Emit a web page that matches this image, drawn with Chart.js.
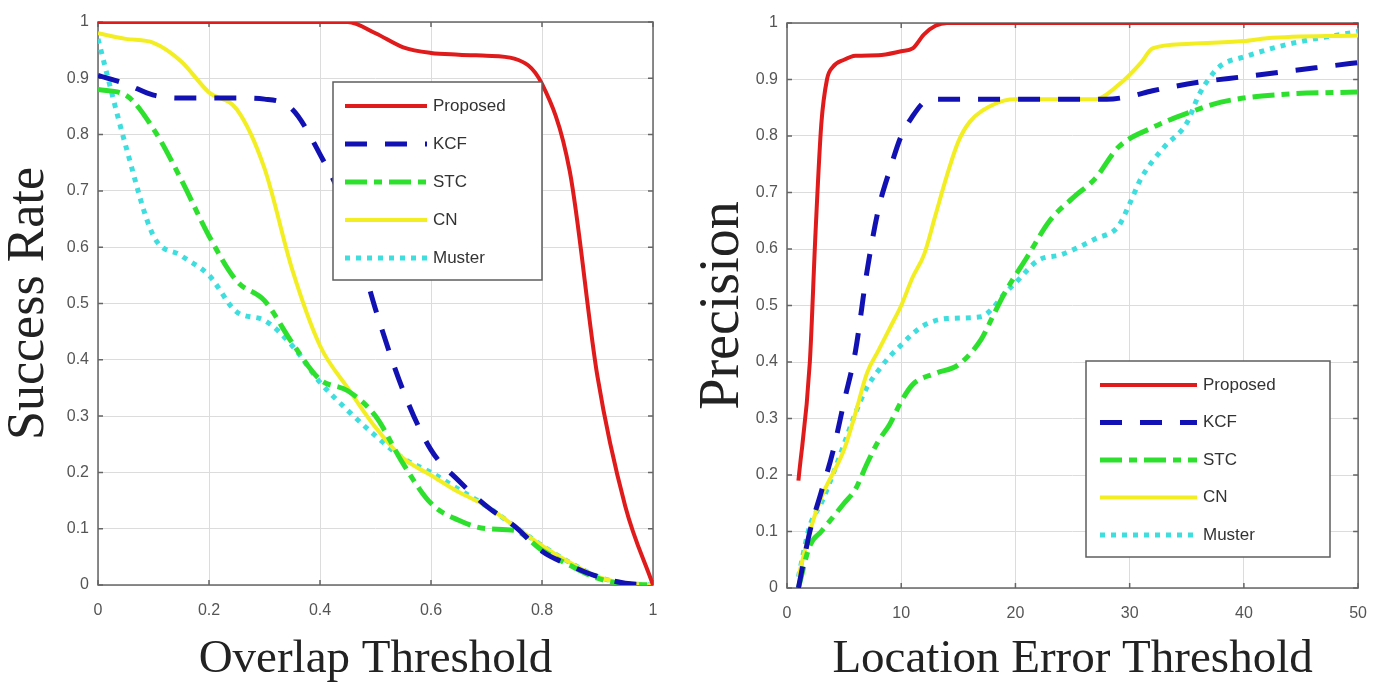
<!DOCTYPE html>
<html lang="en">
<head>
    <meta charset="UTF-8">
    <title>Success Rate / Precision</title>
    <script src="https://cdn.jsdelivr.net/npm/chart.js"></script>
    <style>
        body {
            margin: 0;
            background: #fff;
            width: 1383px;
            height: 683px;
            overflow: hidden;
            position: relative;
        }
        .panel {
            position: absolute;
            top: 0;
            height: 683px;
        }
        #left { left: 0; width: 690px; }
        #right { left: 690px; width: 693px; }
    </style>
</head>
<body>
    <div class="panel" id="left"><canvas id="successChart"></canvas></div>
    <div class="panel" id="right"><canvas id="precisionChart"></canvas></div>

    <script>
        // Trackers, in legend order
        const methods = ['Proposed', 'KCF', 'STC', 'CN', 'Muster'];

        // Success plot: rate per overlap threshold
        const overlapThresholds = [0, 0.05, 0.1, 0.15, 0.2, 0.25, 0.3, 0.35, 0.4, 0.45, 0.5,
                                   0.55, 0.6, 0.65, 0.7, 0.75, 0.8, 0.85, 0.9, 0.95, 1];
        const successProposed = [1, 1, 1, 1, 1, 1, 1, 1, 1, 1, 0.98,
                                 0.955, 0.945, 0.942, 0.94, 0.935, 0.89, 0.735, 0.37, 0.14, 0];
        const successKCF = [0.905, 0.89, 0.87, 0.865, 0.865, 0.865, 0.863, 0.845, 0.765, 0.66, 0.49,
                            0.345, 0.24, 0.185, 0.14, 0.105, 0.06, 0.035, 0.015, 0.003, 0];
        const successSTC = [0.88, 0.87, 0.81, 0.72, 0.62, 0.54, 0.505, 0.43, 0.365, 0.345, 0.3,
                            0.215, 0.145, 0.115, 0.1, 0.097, 0.062, 0.035, 0.012, 0.002, 0];
        const successCN = [0.98, 0.97, 0.963, 0.93, 0.875, 0.845, 0.74, 0.56, 0.425, 0.35, 0.28,
                           0.225, 0.195, 0.165, 0.14, 0.105, 0.07, 0.04, 0.015, 0.003, 0];
        const successMuster = [0.97, 0.78, 0.62, 0.585, 0.55, 0.485, 0.47, 0.425, 0.36, 0.31, 0.265,
                               0.225, 0.2, 0.17, 0.14, 0.105, 0.07, 0.04, 0.015, 0.003, 0];

        // Precision plot: each curve read where it bends
        const precProposedX = [1, 2, 2.5, 3, 3.5, 4, 5, 6, 8, 10, 11, 12, 13, 14, 50];
        const precProposedY = [0.19, 0.4, 0.63, 0.82, 0.9, 0.922, 0.935, 0.942, 0.943, 0.95, 0.955, 0.98, 0.995, 1, 1];
        const precKCFX = [1, 2, 3, 4, 5, 6, 7, 8, 9, 10, 11, 12, 13, 15, 20, 28, 30, 32, 36, 40, 44, 50];
        const precKCFY = [0, 0.1, 0.17, 0.24, 0.33, 0.42, 0.56, 0.67, 0.74, 0.8, 0.835, 0.86, 0.865,
                          0.865, 0.865, 0.865, 0.87, 0.88, 0.895, 0.905, 0.915, 0.93];
        const precSTCX = [1, 2, 3, 5, 6, 7, 8, 9, 10, 11, 13, 15, 17, 18, 19, 21, 23, 25, 27, 29, 32, 35, 38, 43, 50];
        const precSTCY = [0, 0.075, 0.1, 0.15, 0.175, 0.22, 0.26, 0.29, 0.33, 0.36, 0.38, 0.395, 0.44,
                          0.48, 0.52, 0.585, 0.65, 0.69, 0.725, 0.78, 0.815, 0.84, 0.86, 0.873, 0.878];
        const precCNX = [1, 2, 3, 5, 6, 7, 8, 9, 10, 11, 12, 13, 14, 15, 16, 18, 20, 27, 29, 31, 32, 35, 40, 42, 50];
        const precCNY = [0.02, 0.1, 0.16, 0.245, 0.31, 0.38, 0.42, 0.46, 0.5, 0.55, 0.59, 0.66, 0.73,
                         0.79, 0.825, 0.855, 0.865, 0.865, 0.89, 0.93, 0.955, 0.963, 0.968, 0.973, 0.978];
        const precMusterX = [1, 2, 3, 4, 5, 6, 7, 8, 9, 10, 11, 12, 14, 17, 18, 19, 20, 22, 24, 27, 29,
                             30, 31, 33, 35, 36, 37, 38, 40, 44, 50];
        const precMusterY = [0.02, 0.11, 0.15, 0.2, 0.255, 0.31, 0.355, 0.385, 0.41, 0.43, 0.45, 0.465,
                             0.477, 0.48, 0.495, 0.52, 0.54, 0.58, 0.59, 0.618, 0.64, 0.68, 0.725, 0.78,
                             0.823, 0.87, 0.903, 0.925, 0.94, 0.963, 0.985];

        // Tick labels
        const overlapTicks = [0, 0.2, 0.4, 0.6, 0.8, 1];
        const errorTicks = [0, 10, 20, 30, 40, 50];
        const rateTicks = [0, 0.1, 0.2, 0.3, 0.4, 0.5, 0.6, 0.7, 0.8, 0.9, 1];

        // MATLAB-like line styles (same order as methods)
        const lineStyles = [
            { color: '#e01b1b', width: 4, dash: [] },
            { color: '#1212b4', width: 5, dash: [22, 18] },
            { color: '#2ee02e', width: 5, dash: [22, 7, 8, 7] },
            { color: '#f2ee22', width: 4, dash: [] },
            { color: '#3fdede', width: 5, dash: [5, 6] }
        ];

        const sansFont = '"Liberation Sans", Arial, sans-serif';
        const serifFont = '"Liberation Serif", "Times New Roman", serif';

        // MATLAB prints 1 and 0 without decimals
        const tickText = v => String(Number(v.toFixed(2)));

        function toPoints(xs, ys) {
            return ys.map((y, i) => ({ x: xs[i], y: y }));
        }

        function buildDatasets(seriesList) {
            return seriesList.map((pts, i) => ({
                label: methods[i],
                data: pts,
                borderColor: lineStyles[i].color,
                borderWidth: lineStyles[i].width,
                borderDash: lineStyles[i].dash,
                borderCapStyle: 'butt',
                cubicInterpolationMode: 'monotone',
                pointRadius: 0,
                fill: false
            }));
        }

        // Boxed axes with small inward ticks on all four sides
        const boxPlugin = {
            id: 'boxAxes',
            beforeDatasetsDraw(chart) {
                const { ctx, chartArea: a, scales } = chart;
                ctx.save();
                ctx.strokeStyle = '#666';
                ctx.lineWidth = 1.5;
                ctx.beginPath();
                scales.x.ticks.forEach(t => {
                    const px = scales.x.getPixelForValue(t.value);
                    ctx.moveTo(px, a.bottom); ctx.lineTo(px, a.bottom - 5);
                    ctx.moveTo(px, a.top); ctx.lineTo(px, a.top + 5);
                });
                scales.y.ticks.forEach(t => {
                    const py = scales.y.getPixelForValue(t.value);
                    ctx.moveTo(a.left, py); ctx.lineTo(a.left + 5, py);
                    ctx.moveTo(a.right, py); ctx.lineTo(a.right - 5, py);
                });
                ctx.stroke();
                ctx.strokeRect(a.left, a.top, a.right - a.left, a.bottom - a.top);
                ctx.restore();
            }
        };

        // Legend drawn inside the plot, like the MATLAB one
        const legendPlugin = {
            id: 'boxLegend',
            afterDatasetsDraw(chart, args, opts) {
                const { ctx, chartArea: a } = chart;
                const x0 = a.left + opts.left;
                const y0 = a.top + opts.top;
                ctx.save();
                ctx.fillStyle = '#fff';
                ctx.fillRect(x0, y0, opts.width, opts.height);
                ctx.strokeStyle = '#5e5e5e';
                ctx.lineWidth = 1.5;
                ctx.strokeRect(x0, y0, opts.width, opts.height);
                chart.data.datasets.forEach((ds, i) => {
                    const y = y0 + opts.firstRow + i * opts.rowGap;
                    ctx.beginPath();
                    ctx.setLineDash(ds.borderDash);
                    ctx.strokeStyle = ds.borderColor;
                    ctx.lineWidth = ds.borderWidth;
                    ctx.moveTo(x0 + opts.sampleX, y);
                    ctx.lineTo(x0 + opts.sampleX + opts.sampleLen, y);
                    ctx.stroke();
                    ctx.setLineDash([]);
                    ctx.fillStyle = '#333';
                    ctx.font = '17px ' + sansFont;
                    ctx.textBaseline = 'middle';
                    ctx.fillText(ds.label, x0 + opts.textX, y);
                });
                ctx.restore();
            }
        };

        function makeChart(canvasId, cfg) {
            return new Chart(document.getElementById(canvasId), {
                type: 'line',
                data: { datasets: cfg.datasets },
                plugins: [boxPlugin, legendPlugin],
                options: {
                    responsive: true,
                    maintainAspectRatio: false,
                    animation: false,
                    events: [],
                    layout: { padding: cfg.padding },
                    plugins: {
                        legend: { display: false },
                        tooltip: { enabled: false },
                        boxLegend: cfg.legend
                    },
                    scales: {
                        x: {
                            type: 'linear',
                            min: cfg.xTicks[0],
                            max: cfg.xTicks[cfg.xTicks.length - 1],
                            afterBuildTicks: s => { s.ticks = cfg.xTicks.map(v => ({ value: v })); },
                            afterFit: s => { s.height = cfg.xAxisHeight; },
                            grid: { color: '#dcdcdc', lineWidth: 1, drawTicks: false },
                            border: { display: false },
                            ticks: {
                                padding: 16,
                                color: '#555',
                                maxRotation: 0,
                                autoSkip: false,
                                callback: tickText,
                                font: { family: sansFont, size: 16 }
                            },
                            title: {
                                display: true,
                                text: cfg.xTitle,
                                color: '#222',
                                padding: 0,
                                font: { family: serifFont, size: 47, lineHeight: 1.0 }
                            }
                        },
                        y: {
                            type: 'linear',
                            min: 0,
                            max: 1,
                            afterBuildTicks: s => { s.ticks = rateTicks.map(v => ({ value: v })); },
                            afterFit: s => { s.width = cfg.yAxisWidth; },
                            grid: { color: '#dcdcdc', lineWidth: 1, drawTicks: false },
                            border: { display: false },
                            ticks: {
                                padding: 9,
                                color: '#555',
                                autoSkip: false,
                                callback: tickText,
                                font: { family: sansFont, size: 16 }
                            },
                            title: {
                                display: true,
                                text: cfg.yTitle,
                                color: '#222',
                                padding: { top: cfg.yTitlePad, bottom: 0 },
                                font: { family: serifFont, size: cfg.yTitleSize, lineHeight: 1.0 }
                            }
                        }
                    }
                }
            });
        }

        makeChart('successChart', {
            datasets: buildDatasets([
                toPoints(overlapThresholds, successProposed),
                toPoints(overlapThresholds, successKCF),
                toPoints(overlapThresholds, successSTC),
                toPoints(overlapThresholds, successCN),
                toPoints(overlapThresholds, successMuster)
            ]),
            xTicks: overlapTicks,
            xTitle: 'Overlap Threshold',
            yTitle: 'Success Rate',
            yTitleSize: 52,
            yTitlePad: 3,
            padding: { top: 22, right: 37, left: 0, bottom: 0 },
            xAxisHeight: 98,
            yAxisWidth: 98,
            legend: { left: 235, top: 60, width: 209, height: 198, sampleX: 12, sampleLen: 82, textX: 100, firstRow: 24, rowGap: 38 }
        });

        makeChart('precisionChart', {
            datasets: buildDatasets([
                toPoints(precProposedX, precProposedY),
                toPoints(precKCFX, precKCFY),
                toPoints(precSTCX, precSTCY),
                toPoints(precCNX, precCNY),
                toPoints(precMusterX, precMusterY)
            ]),
            xTicks: errorTicks,
            xTitle: 'Location Error Threshold',
            yTitle: 'Precision',
            yTitleSize: 56,
            yTitlePad: 5,
            padding: { top: 23, right: 23, left: 0, bottom: 0 },
            xAxisHeight: 95,
            yAxisWidth: 97,
            legend: { left: 299, top: 338, width: 244, height: 196, sampleX: 14, sampleLen: 97, textX: 117, firstRow: 24, rowGap: 37.5 }
        });
    </script>
</body>
</html>
